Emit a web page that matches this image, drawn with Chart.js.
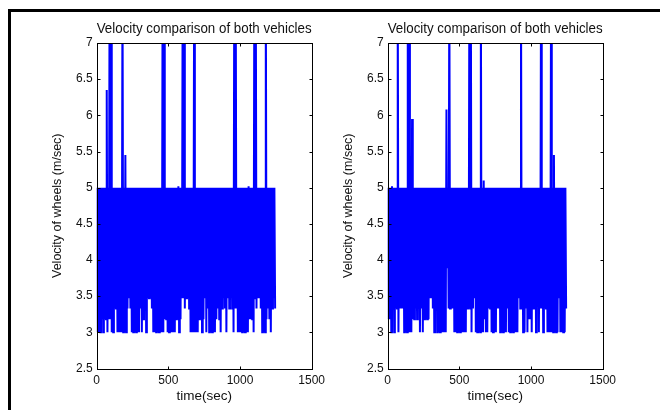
<!DOCTYPE html>
<html>
<head>
<meta charset="utf-8">
<script src="https://cdn.jsdelivr.net/npm/chart.js@4.4.0/dist/chart.umd.min.js"></script>
<style>
body { margin:0; background:#fff; width:660px; height:410px; overflow:hidden; position:relative; }
#frame { position:absolute; left:8px; top:9px; width:700px; height:450px; border-left:3px solid #000; border-top:3px solid #000; }
canvas { position:absolute; top:0; }
#leftPlot { left:0; }
#rightPlot { left:291px; }
</style>
</head>
<body>
<div id="frame"></div>
<canvas id="leftPlot" width="330" height="410"></canvas>
<canvas id="rightPlot" width="330" height="410"></canvas>
<script>
// each signal is stored as one peak + one trough per 10 s cycle
var cycleSeconds = 10;
var xTicks = [0, 500, 1000, 1500];
var yTicks = [2.5, 3, 3.5, 4, 4.5, 5, 5.5, 6, 6.5, 7];

var leftPeaks = [
  5,5,5,5,5,5,5,6.35,5,8,
  8,5,5,5,5,5,5,5,8,5,
  5.45,5,5,5,5,5,5,5,5,5,
  5,5,5,5,5,5,5,5,5,5,
  5,5,5,5,5,5,8,8,5,5,
  5,5,5,5,5,5,5,5.02,5,5,
  8,8,5,5,5,5,5,5,8,5,
  5,5,5,5,5,5,5,5,5,5,
  5,5,5,5,5,5,5,5,5,5,
  5,5,5,5,5,5,8,8,5,5,
  5,5,5,5,5,5,5.02,5,5,5,
  8,8,5,5,5,5,5,5,8,5,
  5,5,5,5,5
];
var leftTroughs = [
  3,3,3,3.18,3,3.18,3.18,3,3.18,3.18,
  3,3,3.33,3.33,3,3,3,3,3,3,
  3,3.33,3.47,3.33,3,3,3,3,3,3,
  3.33,3,3.18,3.33,3,3.47,3.47,3.47,3.33,3,
  3,3,3,3,3,3,3,3.18,3.18,3,
  3,3,3,3,3,3.18,3.18,3,3.18,3.47,
  3.47,3.33,3.47,3.47,3.33,3,3,3,3,3,
  3,3.18,3.18,3,3.18,3.47,3,3.33,3,3,
  3,3,3,3.18,3.33,3.18,3,3.33,3.47,3.33,
  3,3.47,3.33,3.47,3.33,3,3.33,3.33,3,3,
  3,3,3,3,3,3,3.18,3.18,3.18,3,
  3.47,3.33,3.47,3.47,3.33,3,3,3,3.18,3.33,
  3.18,3,3.33,3.47,3.33
];

var rightPeaks = [
  5,5,5,5.02,5,5,5,8,5,5,
  5,5,5,5,8,8,5.1,5.95,5,5,
  5,5,5,5,5,5,5,5,5,5,
  5,5,5,5,5,5,5,5,5,5,
  5,6.08,5,8,5,5,5,5,5,5,
  5,5,5,5,5,5,5,8,8,5,
  5,5,5,5,5,8,5,5.1,5,5,
  5,5,5,5,5,5,5,5,5,5,
  5,5,5,5,5,5,5,5,5,5,
  5,5,5,8,5,5,5,5,5,5,
  5,5,5,5,5,5,5,8,5,5,
  5,5,5,5,8,5,5.45,5,5,5,
  5,5,5,5,5
];
var rightTroughs = [
  3.18,3.18,3,3.9,3,3.33,3.33,3,3.33,3.33,
  3.33,3,3,3,3,3,3,3.18,3.18,3.33,
  3.18,3.33,3,3.33,3,3.18,3.18,3.18,3.18,3.47,
  3.47,3.33,3,3.33,3,3,3,3,3,3,
  3,3.9,3.33,3.33,3.33,3.33,3,3,3,3,
  3,3,3,3,3,3.33,3.33,3.33,3,3.33,
  3.47,3,3,3,3,3,3,3.18,3,3,
  3.33,3.33,3,3,3,3,3.33,3.33,3,3,
  3,3,3,3.33,3,3,3,3,3,3,
  3,3.47,3.33,3.33,3,3,3.33,3,3.18,3.18,
  3,3.33,3.33,3,3.47,3,3.33,3.33,3,3.33,
  3.33,3,3,3,3,3,3,3,3,3.47,
  3,3,3,3,3.33
];

var fontFam = '"Liberation Sans", Arial, sans-serif';
var txtColor = '#111';

// build the x/y points for the line: peak at start of cycle, trough half way
function buildSeries(peaks, troughs) {
  var pts = [];
  for (var i = 0; i < peaks.length; i++) {
    pts.push({x: i * cycleSeconds, y: peaks[i]});
    pts.push({x: i * cycleSeconds + cycleSeconds / 2, y: troughs[i]});
  }
  return pts;
}

// matlab style box + inward tick marks
var axesBox = {
  id: 'axesBox',
  afterDraw: function(chart) {
    var ctx = chart.ctx, a = chart.chartArea;
    var xs = chart.scales.x, ys = chart.scales.y;
    var L = Math.round(a.left) + 0.5, R = Math.round(a.right) + 0.5;
    var T = Math.round(a.top) + 0.5, B = Math.round(a.bottom) + 0.5;
    ctx.save();
    ctx.strokeStyle = '#000';
    ctx.lineWidth = 1;
    ctx.strokeRect(L, T, R - L, B - T);
    ctx.beginPath();
    xTicks.forEach(function(v) {
      var px = Math.round(xs.getPixelForValue(v)) + 0.5;
      ctx.moveTo(px, B); ctx.lineTo(px, B - 3);
      ctx.moveTo(px, T); ctx.lineTo(px, T + 3);
    });
    yTicks.forEach(function(v) {
      var py = Math.round(ys.getPixelForValue(v)) + 0.5;
      ctx.moveTo(L, py); ctx.lineTo(L + 3, py);
      ctx.moveTo(R, py); ctx.lineTo(R - 3, py);
    });
    ctx.stroke();
    ctx.restore();
  }
};

function makeChart(canvasId, peaks, troughs) {
  var ctx = document.getElementById(canvasId).getContext('2d');
  return new Chart(ctx, {
    type: 'line',
    data: {
      datasets: [{
        data: buildSeries(peaks, troughs),
        borderColor: '#0000ff',
        borderWidth: 2,
        pointRadius: 0,
        tension: 0,
        fill: false
      }]
    },
    options: {
      responsive: false,
      animation: false,
      devicePixelRatio: 1,
      layout: { padding: { left: 44, right: 17, top: 0, bottom: 0 } },
      plugins: {
        legend: { display: false },
        tooltip: { enabled: false },
        title: {
          display: true,
          fullSize: false,
          text: 'Velocity comparison of both vehicles',
          color: txtColor,
          font: { family: fontFam, size: 14, weight: 'normal' },
          padding: { top: 21, bottom: 5.2 }
        }
      },
      scales: {
        x: {
          type: 'linear',
          min: 0, max: 1500,
          afterBuildTicks: function(s) { s.ticks = xTicks.map(function(v) { return {value: v}; }); },
          afterFit: function(s) { s.height = 41.5; },
          grid: { display: false, drawTicks: false },
          border: { display: false },
          ticks: {
            color: txtColor, padding: 5, maxRotation: 0, autoSkip: false,
            font: { family: fontFam, size: 12 },
            callback: function(v) { return String(v); }
          },
          title: {
            display: true, text: 'time(sec)', color: txtColor,
            font: { family: fontFam, size: 13.5 },
            padding: { top: 0, bottom: 6 }
          }
        },
        y: {
          type: 'linear',
          min: 2.5, max: 7,
          afterBuildTicks: function(s) { s.ticks = yTicks.map(function(v) { return {value: v}; }); },
          afterFit: function(s) { s.width = 52.7; },
          grid: { display: false, drawTicks: false },
          border: { display: false },
          ticks: {
            color: txtColor, padding: 4, autoSkip: false,
            font: { family: fontFam, size: 12 },
            callback: function(v) { return String(v); }
          },
          title: {
            display: true, text: 'Velocity of wheels (m/sec)', color: txtColor,
            font: { family: fontFam, size: 12.5 },
            padding: { top: 6, bottom: 0 }
          }
        }
      }
    },
    plugins: [axesBox]
  });
}

makeChart('leftPlot', leftPeaks, leftTroughs);
makeChart('rightPlot', rightPeaks, rightTroughs);
</script>
</body>
</html>
